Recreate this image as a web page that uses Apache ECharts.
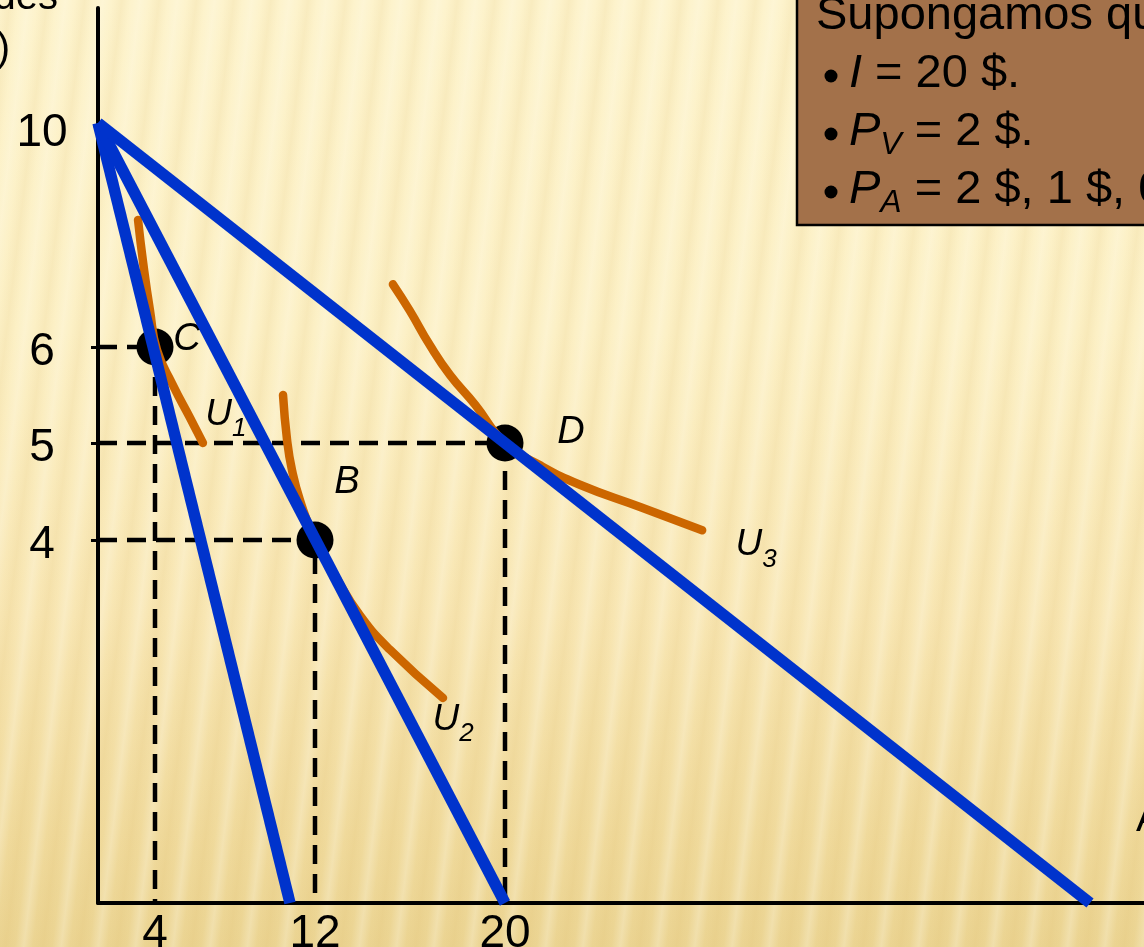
<!DOCTYPE html>
<html>
<head>
<meta charset="utf-8">
<script src="https://cdn.jsdelivr.net/npm/echarts@6/dist/echarts.min.js"></script>
<style>
  html, body { margin: 0; padding: 0; width: 1144px; height: 947px; overflow: hidden; }
  body {
    background:
      repeating-linear-gradient(97deg, rgba(255,255,255,0) 0px, rgba(214,176,90,0.11) 10px, rgba(255,255,255,0) 19px, rgba(255,251,235,0.28) 28px, rgba(255,255,255,0) 37px),
      linear-gradient(to bottom, #fdf3cc 0%, #fcf0c5 35%, #f8e6b3 65%, #f0da9c 88%, #ebd492 100%);
  }
  #chart { width: 1144px; height: 947px; }
</style>
</head>
<body>
<div id="chart"></div>
<script>
  // valores económicos del gráfico
  var xTicks = [4, 12, 20];
  var yTicks = [4, 5, 6, 10];
  var vestidoIntercept = 10;            // I / P_V
  var alimentoIntercepts = [10, 20, 40]; // P_A = 2 $, 1 $, 0,50 $
  var optimumNames = ['C', 'B', 'D'];
  var optimumX = [4, 12, 20];
  var optimumY = [6, 4, 5];
  var curveNames = ['U1', 'U2', 'U3'];
  var curveU1 = [[2.81, 8.27], [3.16, 7.52], [3.65, 6.65], [4.09, 5.97], [4.8, 5.6], [5.56, 5.26], [6.13, 5.0]];
  var curveU2 = [[9.69, 5.5], [9.87, 5.03], [10.16, 4.72], [10.8, 4.41], [12, 4], [12.84, 3.61], [13.89, 3.17], [15.16, 2.79], [17.39, 2.26]];
  var curveU3 = [[15.28, 7.12], [15.99, 6.65], [16.84, 6.03], [17.68, 5.71], [18.74, 5.4], [20, 5], [21.2, 4.77], [22.56, 4.57], [24.62, 4.34], [26.74, 4.1]];
  var boxLines = ['Supongamos que:', '{i|I} = 20 $.', '{i|P}{s|V} = 2 $.', '{i|P}{s|A} = 2 $, 1 $, 0,50 $.'];

  // la figura original no está a escala: tramos lineales entre marcas
  var xKnots = [0, 4, 10, 12, 20, 40];
  var xSpots = [0, 57, 192, 217, 407, 992];
  var yKnots = [0, 4, 5, 6, 10];
  var ySpots = [0, 363, 460, 556, 780];

  function warp(v, knots, spots) {
    var i = 1;
    while (i < knots.length - 1 && v > knots[i]) i++;
    var t = (v - knots[i - 1]) / (knots[i] - knots[i - 1]);
    return spots[i - 1] + t * (spots[i] - spots[i - 1]);
  }
  function pt(p) { return [warp(p[0], xKnots, xSpots), warp(p[1], yKnots, ySpots)]; }

  var FONT = '"Liberation Sans", Arial, sans-serif';
  var BLUE = '#0033cc';
  var ORANGE = '#cc6600';

  var xLabelAt = {};
  xTicks.forEach(function (t) { xLabelAt[warp(t, xKnots, xSpots).toFixed(2)] = String(t); });
  var yLabelAt = {};
  yTicks.forEach(function (t) { yLabelAt[warp(t, yKnots, ySpots).toFixed(2)] = String(t); });

  var dotLabelOffsets = [[32, -8], [32, -58], [66, -11]];
  var curveLabelOffsets = [[23, -24], [10, 26], [54, 19]];
  var curves = [curveU1, curveU2, curveU3];

  var series = [];

  // líneas discontinuas de referencia
  optimumNames.forEach(function (name, i) {
    series.push({
      type: 'line', clip: false, symbol: 'none', z: 1, silent: true,
      lineStyle: { color: '#000', width: 4.5, type: [19, 10] },
      data: [pt([0, optimumY[i]]), pt([optimumX[i], optimumY[i]]), pt([optimumX[i], 0])]
    });
  });

  // puntos óptimos
  series.push({
    type: 'scatter', z: 2, symbolSize: 37, silent: true,
    itemStyle: { color: '#000', opacity: 1 },
    data: optimumNames.map(function (name, i) {
      return {
        name: name,
        value: pt([optimumX[i], optimumY[i]]),
        label: {
          show: true, position: 'inside', offset: dotLabelOffsets[i], formatter: name,
          color: '#000', fontSize: 38, fontStyle: 'italic', fontFamily: FONT
        }
      };
    })
  });

  // curvas de indiferencia
  curves.forEach(function (c) {
    series.push({
      type: 'line', clip: false, symbol: 'none', smooth: 0.5, z: 3, silent: true,
      lineStyle: { color: ORANGE, width: 8.5, cap: 'round' },
      data: c.map(pt)
    });
  });
  series.push({
    type: 'scatter', z: 3, symbolSize: 0, silent: true,
    itemStyle: { opacity: 1 },
    data: curveNames.map(function (name, i) {
      var last = curves[i][curves[i].length - 1];
      return {
        value: pt(last),
        label: {
          show: true, position: 'inside', offset: curveLabelOffsets[i],
          formatter: '{u|' + name.charAt(0) + '}{s|' + name.slice(1) + '}',
          rich: {
            u: { fontSize: 37, fontStyle: 'italic', fontFamily: FONT, color: '#000', lineHeight: 46, verticalAlign: 'top' },
            s: { fontSize: 26, fontStyle: 'italic', fontFamily: FONT, color: '#000', lineHeight: 46, verticalAlign: 'bottom' }
          }
        }
      };
    })
  });

  // rectas presupuestarias
  alimentoIntercepts.forEach(function (a) {
    series.push({
      type: 'line', clip: false, symbol: 'none', z: 4, silent: true,
      lineStyle: { color: BLUE, width: 11.5, cap: 'butt' },
      data: [pt([0, vestidoIntercept]), pt([a, 0])]
    });
  });

  var boxRich = {
    i: { fontSize: 47, fontStyle: 'italic', fontFamily: FONT, color: '#000' },
    s: { fontSize: 32, fontStyle: 'italic', fontFamily: FONT, color: '#000', padding: [26, 0, 0, 0] }
  };
  var boxText = boxLines.map(function (line, i) {
    return {
      type: 'text', x: i === 0 ? 816 : 849, y: 16 + i * 58,
      style: {
        text: line, fill: '#000', font: '47px ' + FONT, rich: boxRich,
        verticalAlign: 'middle', align: 'left'
      }
    };
  });
  var bullets = [1, 2, 3].map(function (i) {
    return {
      type: 'circle', shape: { cx: 831, cy: 16 + i * 58 + 2, r: 6.5 }, style: { fill: '#000' }
    };
  });

  var chart = echarts.init(document.getElementById('chart'), null, { renderer: 'canvas' });
  chart.setOption({
    backgroundColor: 'transparent',
    animation: false,
    grid: { left: 98, top: 8, width: 1046, height: 895, containLabel: false, outerBoundsMode: 'none' },
    xAxis: {
      type: 'value', min: 0, max: 1046,
      splitLine: { show: false },
      axisLine: { lineStyle: { color: '#000', width: 4 } },
      axisTick: { show: false },
      axisLabel: {
        customValues: xTicks.map(function (t) { return warp(t, xKnots, xSpots); }),
        formatter: function (v) { return xLabelAt[v.toFixed(2)] || ''; },
        color: '#000', fontSize: 46, fontFamily: FONT, margin: 8
      }
    },
    yAxis: {
      type: 'value', min: 0, max: 895,
      splitLine: { show: false },
      axisLine: { lineStyle: { color: '#000', width: 4 } },
      axisTick: {
        show: true, length: 7, lineStyle: { color: '#000', width: 3 },
        customValues: [4, 5, 6].map(function (t) { return warp(t, yKnots, ySpots); })
      },
      axisLabel: {
        customValues: yTicks.map(function (t) { return warp(t, yKnots, ySpots); }),
        formatter: function (v) {
          var s = yLabelAt[v.toFixed(2)] || '';
          return s === '10' ? '{top|' + s + '}' : '{n|' + s + '}';
        },
        rich: {
          n: { fontSize: 46, fontFamily: FONT, color: '#000', padding: [10, 0, 0, 0] },
          top: { fontSize: 46, fontFamily: FONT, color: '#000', padding: [20, 0, 0, 0] }
        },
        margin: 56, align: 'center'
      }
    },
    graphic: [
      { type: 'text', x: 58, y: 18, style: { text: 'Unidades', font: '40px ' + FONT, fill: '#000', align: 'right', verticalAlign: 'bottom' } },
      { type: 'text', x: 10, y: 50, style: { text: 'de vestido (por semana)', font: '40px ' + FONT, fill: '#000', align: 'right', verticalAlign: 'middle' } },
      { type: 'text', x: 1136, y: 820, style: { text: 'Alimento (unidades por semana)', font: '40px ' + FONT, fill: '#000', align: 'left', verticalAlign: 'middle' } },
      {
        type: 'group', z: 100,
        children: [{
          type: 'rect', shape: { x: 797, y: -10, width: 420, height: 235 },
          style: { fill: '#a3714a', stroke: '#000', lineWidth: 2.5 }
        }].concat(boxText, bullets)
      }
    ],
    series: series
  });
</script>
</body>
</html>
